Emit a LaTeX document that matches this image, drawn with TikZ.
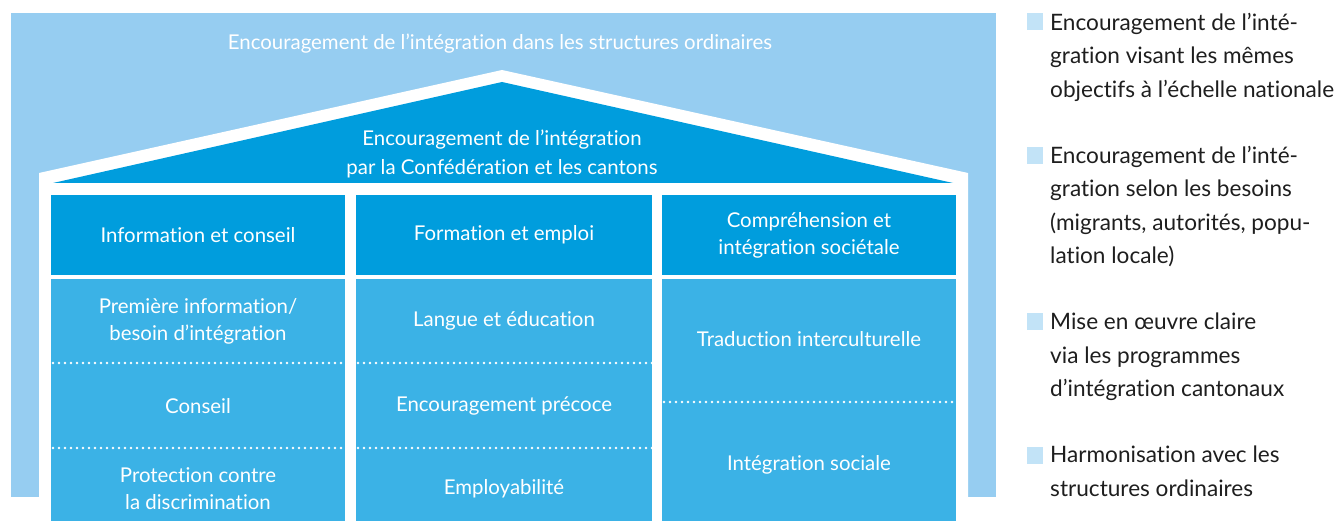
\documentclass[tikz,border=0pt]{standalone}
\usepackage{fontspec}
\setmainfont{Lato}[Ligatures=NoCommon]
\definecolor{outerblue}{RGB}{150,205,241}
\definecolor{roofblue}{RGB}{0,157,221}
\definecolor{pillarblue}{RGB}{59,178,230}
\definecolor{keyblue}{RGB}{194,227,247}
\definecolor{keytext}{RGB}{30,30,30}
\tikzset{
	boxtext/.style={text=white, align=center, inner sep=0pt, font=\fontsize{20.4}{27}\selectfont},
	headbox/.style={boxtext, fill=roofblue, minimum height=80pt},
	dotline/.style={white, line width=2.6pt, line cap=round, dash pattern=on 0pt off 6pt},
	keytext/.style={text=keytext, align=left, anchor=north west, inner sep=0pt, font=\fontsize{22.6}{33.3}\selectfont},
	keybox/.style={fill=keyblue}
}
\begin{document}
\begin{tikzpicture}[x=1pt,y=-1pt]
	\useasboundingbox (0,0) rectangle (1343,521);
	\path[fill=outerblue] (11,13) rectangle (996,497);
	\path[fill=white] (39,521) -- (39,173) -- (502,70) -- (968,173) -- (968,521) -- cycle;
	\path[fill=roofblue] (53,183) -- (502,82) -- (953,183) -- cycle;
	\node[boxtext] (ordinaires) at (500,43.5) {Encouragement de l’intégration dans les structures ordinaires};
	\node[boxtext, font=\fontsize{20.4}{29}\selectfont] (confederation) at (502,154) {Encouragement de l’intégration\\par la Confédération et les cantons};

	\node[headbox, minimum width=294pt] (infohead) at (198,235) {Information et conseil};
	\node[headbox, minimum width=296pt] (formhead) at (504,235) {Formation et emploi};
	\node[headbox, minimum width=294pt] (comphead) at (809,235) {Compréhension et\\intégration sociétale};

	\path[fill=pillarblue] (51,279) rectangle (345,521);
	\path[fill=pillarblue] (356,279) rectangle (652,521);
	\path[fill=pillarblue] (662,279) rectangle (956,521);
	\draw[dotline] (53,363) -- (345,363);
	\draw[dotline] (53,448) -- (345,448);
	\draw[dotline] (358,363) -- (652,363);
	\draw[dotline] (358,448) -- (652,448);
	\draw[dotline] (664,402) -- (956,402);

	\node[boxtext] (premiere) at (198,321) {Première information/\\besoin d’intégration};
	\node[boxtext] (conseil) at (198,406) {Conseil};
	\node[boxtext] (protection) at (198,489) {Protection contre\\la discrimination};
	\node[boxtext] (langue) at (504,320.5) {Langue et éducation};
	\node[boxtext] (precoce) at (504,406) {Encouragement précoce};
	\node[boxtext] (employ) at (504,489) {Employabilité};
	\node[boxtext] (traduction) at (809,339.5) {Traduction interculturelle};
	\node[boxtext] (sociale) at (809,464.5) {Intégration sociale};

	\path[keybox] (1027,13) rectangle (1043,30);
	\path[keybox] (1027,147) rectangle (1043,164);
	\path[keybox] (1027,313) rectangle (1043,330);
	\path[keybox] (1027,447) rectangle (1043,464);
	\node[keytext] (keyone) at (1050,13) {Encouragement de l’inté-\\gration visant les mêmes\\objectifs à l’échelle nationale};
	\node[keytext] (keytwo) at (1050,146) {Encouragement de l’inté-\\gration selon les besoins\\(migrants, autorités, popu-\\lation locale)};
	\node[keytext] (keythree) at (1050,313) {Mise en œuvre claire\\via les programmes\\d’intégration cantonaux};
	\node[keytext] (keyfour) at (1050,446) {Harmonisation avec les\\structures ordinaires};
\end{tikzpicture}
\end{document}
